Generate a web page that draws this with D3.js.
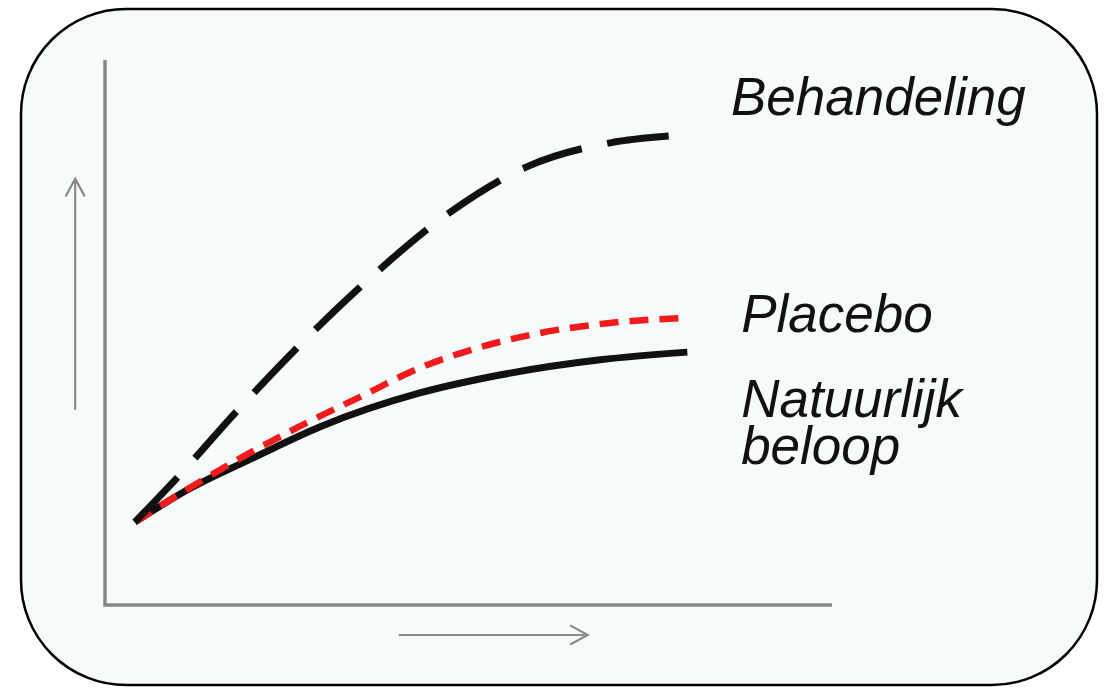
<!DOCTYPE html>
<html>
<head>
<meta charset="utf-8">
<script src="https://cdn.jsdelivr.net/npm/d3@7"></script>
<style>
  html, body { margin: 0; padding: 0; background: #ffffff; }
  svg { display: block; }
  text { font-family: "Liberation Sans", Arial, sans-serif; font-style: italic; fill: #111; }
</style>
</head>
<body>
<div id="chart"></div>
<script>
// curve data, x = time, y = effect (both on a 0..100 axis)
var behandelingX = [4.1, 10.3, 18.3, 26.5, 35.4, 47.5, 58.0, 69.5, 78.1];
var behandelingY = [15.2, 23.9, 35.8, 47.3, 58.7, 72.1, 80.4, 84.8, 86.1];

var placeboX = [4.1, 11.9, 19.9, 27.1, 35.1, 43.3, 51.6, 59.8, 69.1, 80.1];
var placeboY = [15.2, 21.7, 27.9, 33.0, 38.2, 43.5, 47.3, 49.9, 51.7, 52.7];

var natuurlijkX = [4.1, 11.3, 20.4, 29.6, 43.3, 54.3, 68.1, 80.1];
var natuurlijkY = [15.2, 21.1, 27.0, 32.7, 38.9, 42.2, 45.0, 46.4];

// label text + where it sits (data units)
var labelLines = [["Behandeling"], ["Placebo"], ["Natuurlijk", "beloop"]];
var labelX = [86.1, 87.5, 87.5];
var labelY = [89.9, 50.1, 34.5];

var W = 1111, H = 689;

var svg = d3.select("#chart").append("svg")
	.attr("width", W)
	.attr("height", H);

// the rounded panel
svg.append("rect")
	.attr("x", 21).attr("y", 9)
	.attr("width", 1076).attr("height", 676)
	.attr("rx", 105).attr("ry", 105)
	.attr("fill", "#f6fafb")
	.attr("stroke", "#000")
	.attr("stroke-width", 2.5);

var x = d3.scaleLinear().domain([0, 100]).range([105, 832]);
var y = d3.scaleLinear().domain([0, 100]).range([605, 60]);

// axes (plain lines, no ticks)
svg.append("path")
	.attr("d", "M" + x(0) + "," + y(100) + "L" + x(0) + "," + y(0) + "L" + x(100) + "," + y(0))
	.attr("fill", "none")
	.attr("stroke", "#868686")
	.attr("stroke-width", 3.5);

// small direction arrows
function arrow(x1, y1, x2, y2) {
	var g = svg.append("g")
		.attr("fill", "none")
		.attr("stroke", "#8a8a8a")
		.attr("stroke-width", 2.2);
	var px1 = x(x1), py1 = y(y1), px2 = x(x2), py2 = y(y2);
	g.append("line").attr("x1", px1).attr("y1", py1).attr("x2", px2).attr("y2", py2);
	var ang = Math.atan2(py2 - py1, px2 - px1);
	var len = 20, spread = 0.5;
	var head = d3.path();
	head.moveTo(px2 - len * Math.cos(ang - spread), py2 - len * Math.sin(ang - spread));
	head.lineTo(px2, py2);
	head.lineTo(px2 - len * Math.cos(ang + spread), py2 - len * Math.sin(ang + spread));
	g.append("path").attr("d", head.toString());
}
arrow(-4.1, 35.8, -4.1, 78.2);
arrow(40.4, -5.5, 66.4, -5.5);

var line = d3.line()
	.x(function(d) { return x(d[0]); })
	.y(function(d) { return y(d[1]); })
	.curve(d3.curveMonotoneX);

function pairs(xs, ys) {
	return xs.map(function(v, i) { return [v, ys[i]]; });
}

// natural course: solid black
svg.append("path")
	.attr("d", line(pairs(natuurlijkX, natuurlijkY)))
	.attr("fill", "none")
	.attr("stroke", "#111")
	.attr("stroke-width", 7);

// placebo: short red dashes
svg.append("path")
	.attr("d", line(pairs(placeboX, placeboY)))
	.attr("fill", "none")
	.attr("stroke", "#f21b1b")
	.attr("stroke-width", 6.5)
	.attr("stroke-dasharray", "19,11");

// treatment: long black dashes
svg.append("path")
	.attr("d", line(pairs(behandelingX, behandelingY)))
	.attr("fill", "none")
	.attr("stroke", "#111")
	.attr("stroke-width", 7)
	.attr("stroke-dasharray", "62,26");

// labels
labelLines.forEach(function(lines, i) {
	var t = svg.append("text")
		.attr("x", x(labelX[i]))
		.attr("y", y(labelY[i]))
		.attr("font-size", 53);
	lines.forEach(function(s, j) {
		t.append("tspan")
			.attr("x", x(labelX[i]))
			.attr("dy", j == 0 ? 0 : 47)
			.text(s);
	});
});
</script>
</body>
</html>
